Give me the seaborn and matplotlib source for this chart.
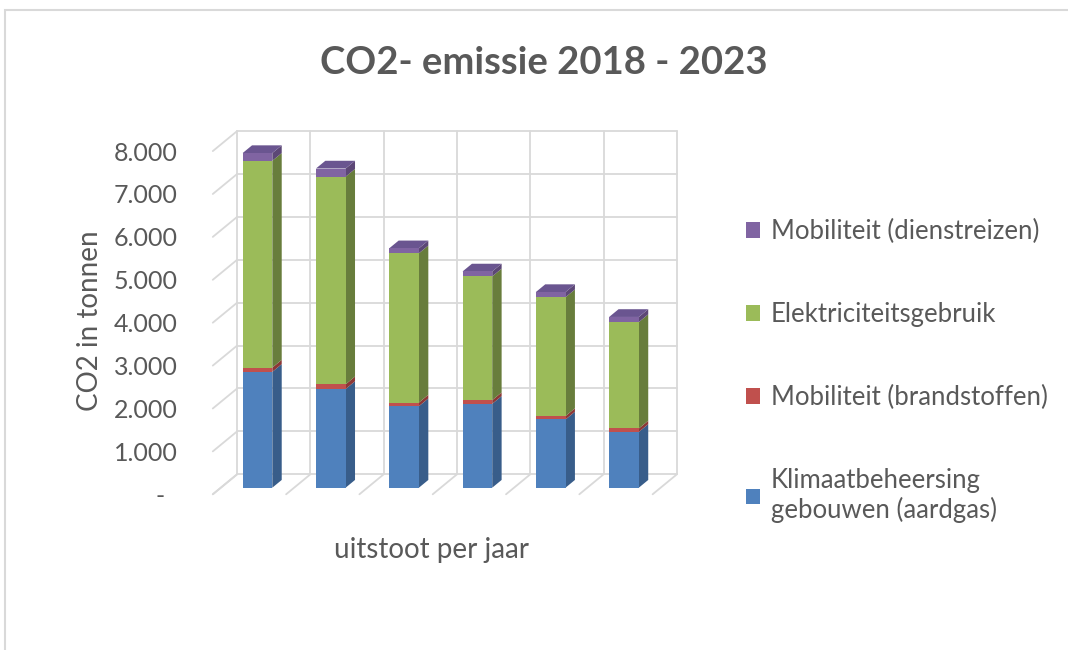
import numpy as np
import pandas as pd
import matplotlib
matplotlib.use('Agg')
import matplotlib.pyplot as plt
from matplotlib.patches import Polygon, Rectangle
import seaborn as sns

# data (tonnen CO2 per jaar)
years = ['2018', '2019', '2020', '2021', '2022', '2023']
klimaat = [2700, 2300, 1900, 1955, 1590, 1300]
brandstof = [100, 110, 85, 85, 80, 80]
elektra = [4820, 4840, 3480, 2885, 2770, 2480]
dienstreis = [180, 190, 115, 115, 120, 120]

series_names = ['Klimaatbeheersing\ngebouwen (aardgas)', 'Mobiliteit (brandstoffen)',
                'Elektriciteitsgebruik', 'Mobiliteit (dienstreizen)']
y_ticks = [0, 1000, 2000, 3000, 4000, 5000, 6000, 7000, 8000]

front_col = ['#4F81BD', '#C0504D', '#9BBB59', '#8064A2']
side_col = ['#385D8A', '#8C3836', '#687D3C', '#5C4776']
top_col = '#6A5590'
grid_col = '#D9D9D9'
text_col = '#595959'

sns.set_theme(style='white')
plt.rcParams['font.family'] = ['Lato', 'DejaVu Sans']

fig = plt.figure(figsize=(10.68, 6.5), dpi=100)
ax = fig.add_axes([200 / 1068, 1 - 510 / 650, 500 / 1068, 390 / 650])

# fake 3d depth (in data units)
Dx, Dy = 0.3315, 466
f0 = 0.33          # depth of bar front face
bar_depth = 0.387  # bar thickness as fraction of full depth
bw = 0.405

df = pd.DataFrame({'jaar': years, 'k': klimaat, 'b': brandstof, 'e': elektra, 'd': dienstreis})
layers = [df['k'], df['b'], df['e'], df['d']]
cum = np.cumsum(np.array(layers, dtype=float), axis=0)

# stacked bars: draw totals first, smaller cumulatives on top
for i in range(3, -1, -1):
    sns.barplot(x=df['jaar'], y=cum[i], color=front_col[i], saturation=1, width=bw,
                linewidth=0, ax=ax, label=series_names[i], zorder=5 + (3 - i))
if ax.get_legend() is not None:
    ax.get_legend().remove()

# back wall + side wall + floor grid
bx0 = -0.5 + (1 - f0) * Dx
bx1 = len(years) - 0.5 + (1 - f0) * Dx
fx0 = -0.5 - f0 * Dx
for v in y_ticks:
    ax.plot([bx0, bx1], [v + (1 - f0) * Dy] * 2, color=grid_col, lw=1.3, zorder=1)
    ax.plot([fx0, bx0], [v - f0 * Dy, v + (1 - f0) * Dy], color=grid_col, lw=1.3, zorder=1)
for k in range(len(years) + 1):
    ax.plot([bx0 + k] * 2, [(1 - f0) * Dy, y_ticks[-1] + (1 - f0) * Dy], color=grid_col, lw=1.3, zorder=1)
    ax.plot([fx0 + k, bx0 + k], [-f0 * Dy, (1 - f0) * Dy], color=grid_col, lw=1.3, zorder=1)

# side and top faces taken from the bars seaborn drew
ddx, ddy = bar_depth * Dx, bar_depth * Dy
bars = ax.containers[-1]
for j, p in enumerate(bars.patches):
    x1 = p.get_x() + p.get_width()
    x0 = p.get_x()
    bottom = 0
    for i in range(4):
        t = cum[i][j]
        ax.add_patch(Polygon([(x1, bottom), (x1 + ddx, bottom + ddy), (x1 + ddx, t + ddy), (x1, t)],
                             closed=True, fc=side_col[i], ec='none', zorder=4))
        bottom = t
    T = cum[3][j]
    ax.add_patch(Polygon([(x0, T), (x1, T), (x1 + ddx, T + ddy), (x0 + ddx, T + ddy)],
                         closed=True, fc=top_col, ec='none', zorder=4))

ax.set_xlim(-0.784, 6.037)
ax.set_ylim(-520, 8571)
for s in ax.spines.values():
    s.set_visible(False)
ax.set_xticks([])
ax.set_yticks([v - f0 * Dy for v in y_ticks])
ax.set_yticklabels(['-  ' if v == 0 else f'{v:,}'.replace(',', '.') for v in y_ticks])
ax.tick_params(axis='y', length=0, pad=16, labelsize=18, labelcolor=text_col)

ax.set_ylabel('CO2 in tonnen', fontsize=20, color=text_col)
ax.yaxis.set_label_coords(-0.194, 0.485)
ax.set_xlabel('uitstoot per jaar', fontsize=20, color=text_col)
ax.xaxis.set_label_coords(0.464, -0.069)

fig.text(0.509, 1 - 63 / 650, 'CO2- emissie 2018 - 2023', ha='center', va='center',
         fontsize=27.5, fontweight='bold', color=text_col)

handles, labels = ax.get_legend_handles_labels()
order = [labels.index(n) for n in series_names[::-1]]
leg = fig.legend([handles[i] for i in order], [labels[i] for i in order],
                 loc='upper left', bbox_to_anchor=(723 / 1068, 1 - 196 / 650), frameon=False,
                 fontsize=18.5, handlelength=0.55, handleheight=0.55, handletextpad=0.4,
                 labelspacing=2.25, labelcolor=text_col)

# chart border
fig.add_artist(Rectangle((5 / 1068, -0.1), 1.2, 1 - 10 / 650 + 0.1, transform=fig.transFigure,
                         fill=False, ec='#D9D9D9', lw=1.5))

fig.savefig('out.png', dpi=100)
